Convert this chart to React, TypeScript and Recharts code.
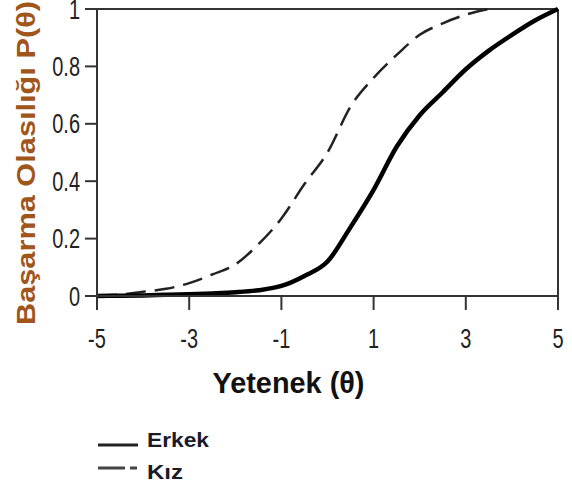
import React from "react";
import { LineChart, Line, XAxis, YAxis, ReferenceLine } from "recharts";

const theta = [-5, -4.5, -4, -3.5, -3, -2.5, -2, -1.5, -1, -0.5, 0, 0.5, 1, 1.5, 2, 2.5, 3, 3.5, 4, 4.5, 5];
const erkek = [0, 0.001, 0.002, 0.004, 0.006, 0.009, 0.013, 0.02, 0.035, 0.07, 0.12, 0.24, 0.37, 0.52, 0.63, 0.71, 0.79, 0.855, 0.91, 0.96, 1.0];
const kiz = [0, 0.005, 0.015, 0.025, 0.045, 0.075, 0.11, 0.18, 0.27, 0.39, 0.5, 0.66, 0.76, 0.84, 0.91, 0.95, 0.98, 1.0, null, null, null];
const xTicks = [-5, -3, -1, 1, 3, 5];
const yTicks = [0, 0.2, 0.4, 0.6, 0.8, 1];
const seriesNames = ["Erkek", "Kız"];
const xTitle = "Yetenek (θ)";
const yTitle = "Başarma Olasılığı P(θ)";

const data = theta.map((t, i) => ({ t, erkek: erkek[i], kiz: kiz[i] }));

const FONT = "Arial, 'Liberation Sans', sans-serif";

const XTick = (props: any) => {
  const { x, y, payload } = props;
  return (
    <text transform={`translate(${x},${y}) scale(0.74,1)`} textAnchor="middle" dy="0.71em" fontSize={27} fontFamily={FONT} fill="#222">
      {String(payload.value)}
    </text>
  );
};

const YTick = (props: any) => {
  const { x, y, payload } = props;
  return (
    <text transform={`translate(${x},${y}) scale(0.74,1)`} textAnchor="end" dy="0.355em" fontSize={27} fontFamily={FONT} fill="#222">
      {String(payload.value)}
    </text>
  );
};

const XLabel = (props: any) => {
  const vb = props.viewBox || { x: 97, width: 461, y: 296 };
  const cx = vb.x + vb.width / 2 - 39;
  return (
    <text x={cx} y={393} textAnchor="middle" fontSize={30} fontWeight="bold" fontFamily={FONT} fill="#111" textLength={152} lengthAdjust="spacingAndGlyphs">
      {xTitle}
    </text>
  );
};

const YLabel = () => (
  <text transform="translate(35,163) rotate(-90)" textAnchor="middle" fontSize={26} fontWeight="bold" fontFamily={FONT} fill="#a0561a" textLength={324} lengthAdjust="spacingAndGlyphs">
    {yTitle}
  </text>
);

const LegendBox = () => (
  <svg width={160} height={60} style={{ position: "absolute", left: 95, top: 428 }}>
    <line x1={3} y1={17} x2={43} y2={17} stroke="#222" strokeWidth={3} />
    <text x={52} y={12} dy="0.355em" fontFamily={FONT} fontWeight="bold" fontSize={21} fill="#1a1a2a" textLength={62} lengthAdjust="spacingAndGlyphs">{seriesNames[0]}</text>
    <line x1={3} y1={40} x2={43} y2={40} stroke="#444" strokeWidth={3} strokeDasharray="27 5 7 20" />
    <text x={52} y={44} dy="0.355em" fontFamily={FONT} fontWeight="bold" fontSize={21} fill="#1a1a2a" textLength={36} lengthAdjust="spacingAndGlyphs">{seriesNames[1]}</text>
  </svg>
);

export default function App() {
  return (
    <div style={{ position: "absolute", left: 0, top: 0, width: 572, height: 492, background: "#fff" }}>
      <LineChart width={572} height={492} data={data} margin={{ top: 9, right: 14, bottom: 156, left: 0 }}>
        <XAxis
          dataKey="t"
          type="number"
          domain={[-5, 5]}
          ticks={xTicks}
          tickSize={14}
          tickMargin={19}
          axisLine={{ stroke: "#333", strokeWidth: 2 }}
          tickLine={{ stroke: "#333", strokeWidth: 2 }}
          tick={<XTick />}
          height={40}
          label={<XLabel />}
        />
        <YAxis
          type="number"
          domain={[0, 1]}
          ticks={yTicks}
          width={97}
          tickSize={12}
          tickMargin={5}
          axisLine={{ stroke: "#333", strokeWidth: 2 }}
          tickLine={{ stroke: "#333", strokeWidth: 2 }}
          tick={<YTick />}
          label={<YLabel />}
        />
        <ReferenceLine y={1} stroke="#333" strokeWidth={2} />
        <ReferenceLine x={5} stroke="#333" strokeWidth={2} />
        <Line dataKey="kiz" stroke="#222" strokeWidth={2.5} strokeDasharray="20 9" dot={false} type="monotone" isAnimationActive={false} connectNulls={false} />
        <Line dataKey="erkek" stroke="#000" strokeWidth={4.5} dot={false} type="monotone" isAnimationActive={false} />
      </LineChart>
      <LegendBox />
    </div>
  );
}
